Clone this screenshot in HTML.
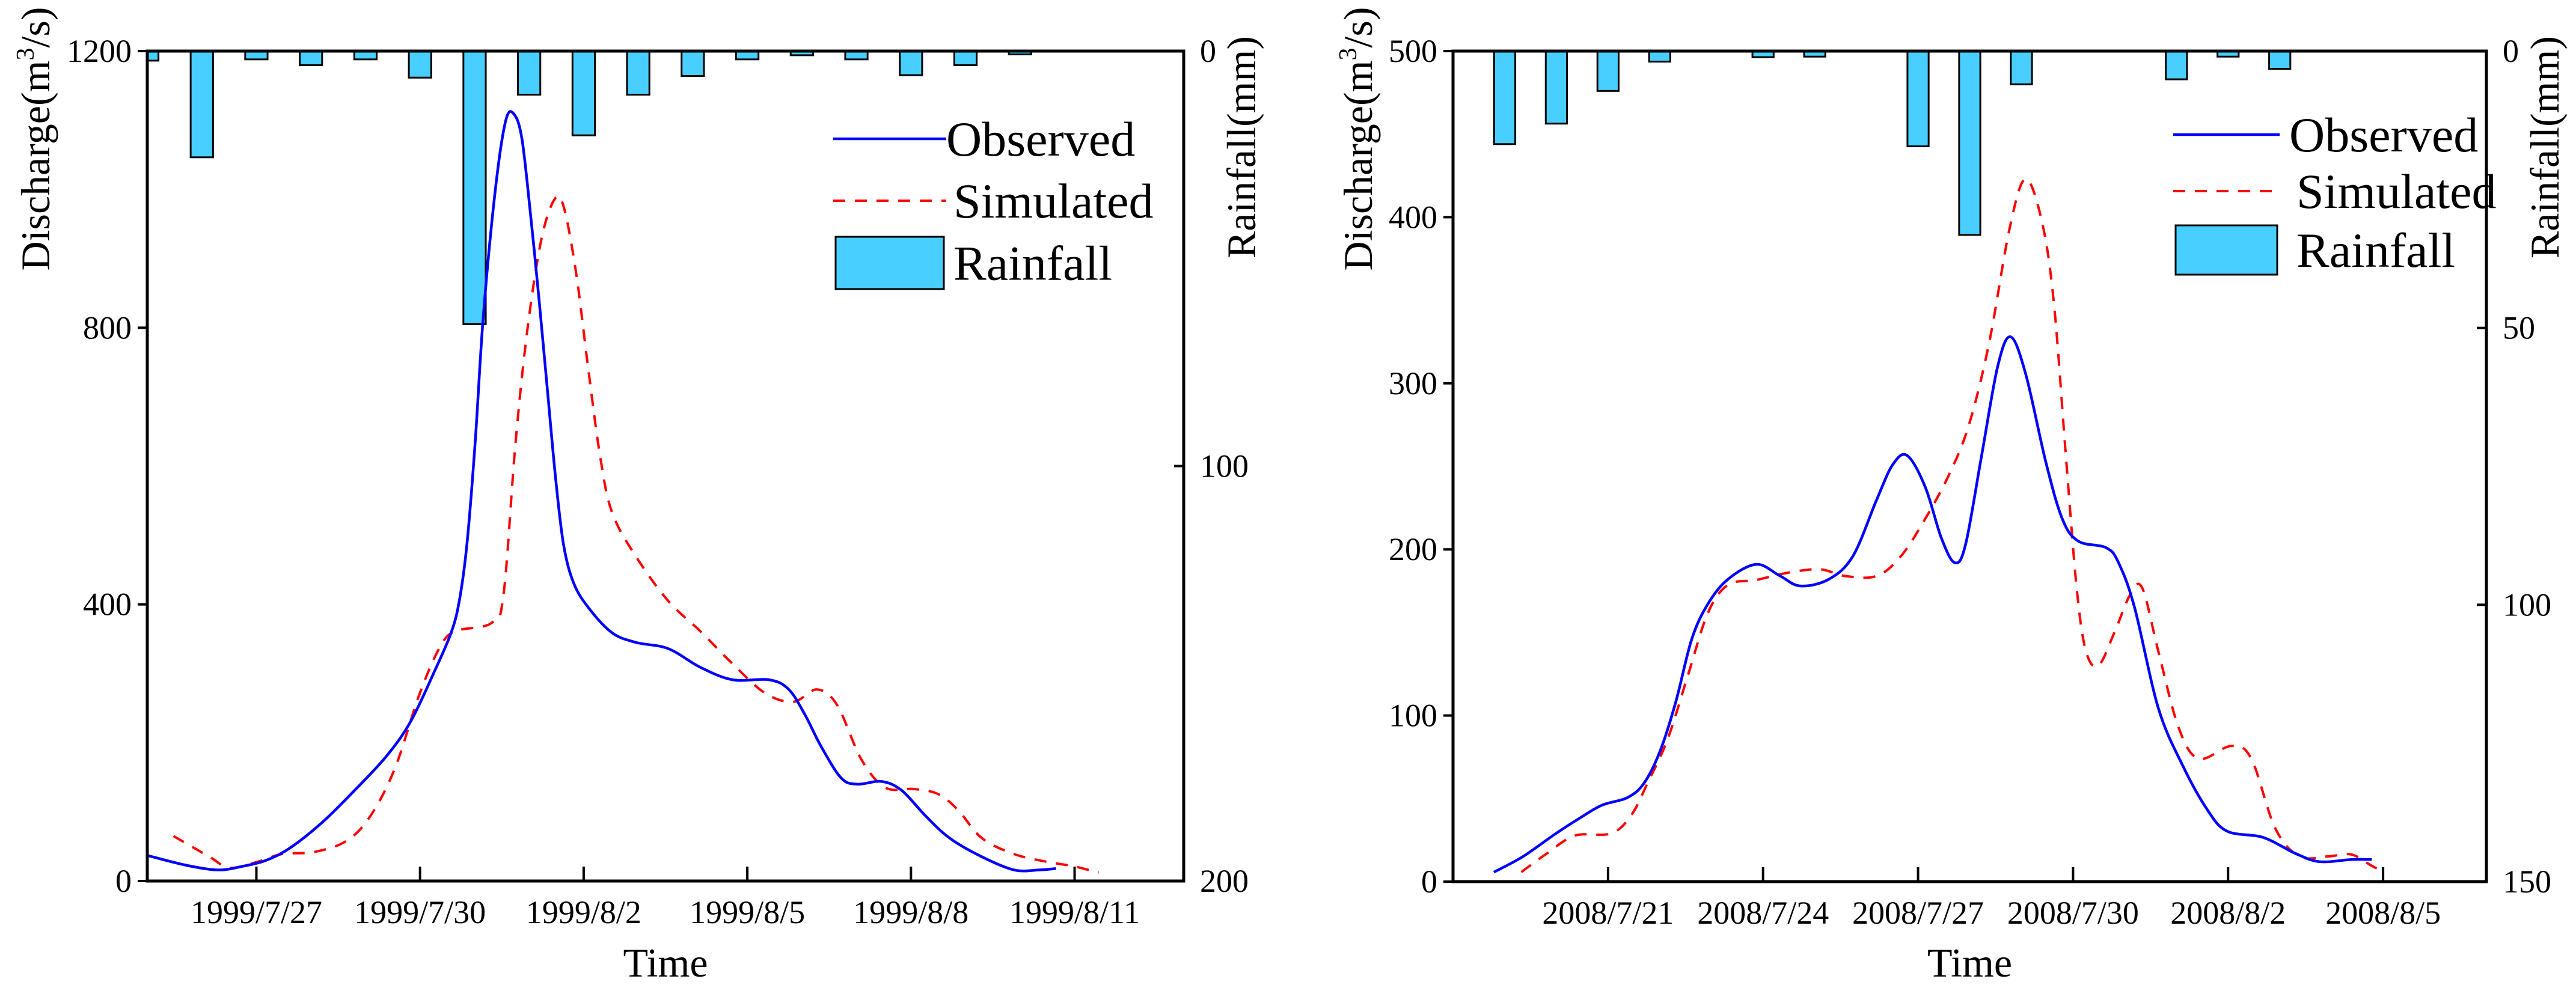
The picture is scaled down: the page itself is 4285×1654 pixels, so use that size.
<!DOCTYPE html>
<html><head><meta charset="utf-8"><style>
html,body{margin:0;padding:0;background:#fff;}
svg, svg text{font-family:"Liberation Serif","Times New Roman",serif;}
</style></head><body>
<svg id="chart" width="4285" height="1649" viewBox="0 0 4285 1649" font-family="Liberation Serif, Times New Roman, serif" xmlns="http://www.w3.org/2000/svg"></svg>
<script>
// ---- Left chart (1999 event), day offsets relative to 1999/7/27 ----
const leftTickLabels = ["1999/7/27","1999/7/30","1999/8/2","1999/8/5","1999/8/8","1999/8/11"];
const leftTickDays = [0,3,6,9,12,15];
const leftRainDays = [-2,-1,0,1,2,3,4,5,6,7,8,9,10,11,12,13,14];
const leftRain = [2.3,25.6,2,3.4,2,6.4,65.8,10.5,20.3,10.5,6,2,1,2,5.8,3.4,0.8];
const leftObsDays = [-2,-1.3,-0.71,-0.27,0.18,0.62,1.21,1.8,2.39,2.83,3.27,3.57,3.72,3.86,4.01,4.16,4.38,4.57,4.72,4.87,5.04,5.19,5.34,5.49,5.63,5.81,6.08,6.52,6.96,7.55,8.14,8.73,9.4,9.76,10.06,10.35,10.72,11.02,11.46,11.83,12.27,12.71,13.3,13.89,14.34,14.66];
const leftObs = [37,23,16,21,30,48,85,131,181,231,304,359,405,487,633,816,999,1099,1109,1072,953,834,706,579,487,432,396,359,345,336,309,291,291,277,240,195,149,140,144,131,94,62,35,16,16,18];
const leftSimDays = [-1.52,-0.86,-0.49,0.03,0.47,1.06,1.65,2.09,2.54,2.98,3.35,3.64,4.31,4.53,4.75,4.97,5.22,5.46,5.63,5.86,6.08,6.3,6.52,6.96,7.55,8.14,8.73,9.32,9.84,10.28,10.65,11.09,11.53,12.05,12.49,12.86,13.3,13.89,14.48,15.0,15.44];
const leftSim = [65,35,19,28,39,42,58,94,163,268,336,361,373,414,633,798,926,985,976,880,743,615,533,469,405,361,314,272,259,277,254,176,135,133,126,103,62,39,28,21,12];
const leftQTicks = [0,400,800,1200];
const leftRTicks = [0,100,200];

// ---- Right chart (2008 event), day offsets relative to 2008/7/21 ----
const rightTickLabels = ["2008/7/21","2008/7/24","2008/7/27","2008/7/30","2008/8/2","2008/8/5"];
const rightTickDays = [0,3,6,9,12,15];
const rightRainDays = [-2,-1,0,1,3,4,6,7,8,11,12,13];
const rightRain = [16.8,13.1,7.2,1.9,1.1,1.0,17.2,33.2,6.0,5.1,1.0,3.2];
const rightObsDays = [-2.21,-1.65,-1.03,-0.56,-0.12,0.37,0.69,1.0,1.31,1.62,1.93,2.32,2.87,3.33,3.72,4.27,4.74,5.2,5.51,5.79,6.14,6.45,6.71,6.92,7.23,7.54,7.79,8.08,8.47,8.79,9.1,9.64,9.88,10.19,10.65,11.12,11.59,11.98,12.68,13.3,13.77,14.39,14.78];
const rightObs = [5.7,15,28.5,38,46,50.5,59,78,108,146,167,182,191,184,178,182,196,230,251,256.5,237.5,207,192,203,256.5,310,328,306,253,218.5,205,201,192,165,104.5,70,43.7,30.4,26.6,17,12,13.3,13.3];
const rightSimDays = [-1.68,-1.18,-0.64,0.06,0.45,0.76,1.15,1.54,1.93,2.32,2.87,3.49,4.11,4.58,5.2,5.67,6.14,6.6,6.99,7.38,7.77,8.08,8.4,8.63,8.86,9.07,9.25,9.49,9.8,10.11,10.34,10.65,11.04,11.43,12.06,12.45,12.91,13.38,13.93,14.39,14.78,15.02];
const rightSim = [5.7,17,27.7,29,40,59,85.5,123.5,161.5,178.6,181.6,186,188,184,184,196,218.5,245,275.5,325,393,423,397,348,256.5,176.7,138.7,130,150,173,176.7,138.7,93,74,81.7,74,32.3,15.2,15.2,16.3,9.5,5.7];
const rightQTicks = [0,100,200,300,400,500];
const rightRTicks = [0,50,100,150];

const NS = "http://www.w3.org/2000/svg";
const FONT = "Liberation Serif, Times New Roman, serif";
const svg = document.getElementById('chart');
function mk(tag, attrs, parent, text){
  const e = document.createElementNS(NS, tag);
  for (const k in attrs) e.setAttribute(k, attrs[k]);
  if (tag === 'text') e.setAttribute('font-family', FONT);
  if (text !== undefined) e.textContent = text;
  (parent || svg).appendChild(e);
  return e;
}
function smoothPath(pts){
  let d = "M" + pts[0][0].toFixed(1) + "," + pts[0][1].toFixed(1);
  for (let i = 0; i < pts.length - 1; i++){
    const p0 = pts[i-1] || pts[i], p1 = pts[i], p2 = pts[i+1], p3 = pts[i+2] || p2;
    const c1x = p1[0] + (p2[0]-p0[0])/6, c1y = p1[1] + (p2[1]-p0[1])/6;
    const c2x = p2[0] - (p3[0]-p1[0])/6, c2y = p2[1] - (p3[1]-p1[1])/6;
    d += " C" + c1x.toFixed(1) + "," + c1y.toFixed(1) + " " + c2x.toFixed(1) + "," + c2y.toFixed(1) + " " + p2[0].toFixed(1) + "," + p2[1].toFixed(1);
  }
  return d;
}

function drawChart(c){
  const g = mk('g', {});
  
  
  const xs = d => c.x0 + (d - c.d0) / (c.d1 - c.d0) * (c.x1 - c.x0);
  const yq = q => c.y1 - q / c.qMax * (c.y1 - c.y0);
  const yr = r => c.y0 + r / c.rMax * (c.y1 - c.y0);
  const clipId = c.name + '-clip';
  const defs = mk('defs', {}, g);
  const cp = mk('clipPath', {id: clipId}, defs);
  mk('rect', {x: c.x0, y: c.y0, width: c.x1 - c.x0, height: c.y1 - c.y0}, cp);
  const plot = mk('g', {'clip-path': 'url(#' + clipId + ')'}, g);
  
  
  const bw = 0.41 * (c.x1 - c.x0) / (c.d1 - c.d0);
  c.rainDays.forEach((d, i) => {
    const b = mk('rect', {x: xs(d) - bw/2, y: c.y0 - 2, width: bw, height: yr(c.rain[i]) - c.y0 + 2, fill: '#48CFFF', stroke: '#000', 'stroke-width': 3}, plot);
    
    
  });
  const sim = mk('path', {d: smoothPath(c.simDays.map((d, i) => [xs(d), yq(c.sim[i])])), fill: 'none', stroke: '#FF0000', 'stroke-width': 4, 'stroke-dasharray': '20 16'}, plot);
  
  
  const obs = mk('path', {d: smoothPath(c.obsDays.map((d, i) => [xs(d), yq(c.obs[i])])), fill: 'none', stroke: '#0000FF', 'stroke-width': 4.5}, plot);
  
  
  const fr = mk('rect', {x: c.x0, y: c.y0, width: c.x1 - c.x0, height: c.y1 - c.y0, fill: 'none', stroke: '#000', 'stroke-width': 5}, g);
  
  
  c.qTicks.forEach(q => {
    mk('line', {x1: c.x0 - 16, x2: c.x0, y1: yq(q), y2: yq(q), stroke: '#000', 'stroke-width': 4}, g);
    const t = mk('text', {x: c.x0 - 26, y: yq(q) + 18, 'font-size': 54, 'text-anchor': 'end'}, g, String(q));
    
    
  });
  c.rTicks.forEach(r => {
    mk('line', {x1: c.x1 - 16, x2: c.x1, y1: yr(r), y2: yr(r), stroke: '#000', 'stroke-width': 4}, g);
    const t = mk('text', {x: c.x1 + 27, y: yr(r) + 18, 'font-size': 54}, g, String(r));
    
    
  });
  c.tickDays.forEach((d, i) => {
    mk('line', {x1: xs(d), x2: xs(d), y1: c.y1 - 24, y2: c.y1, stroke: '#000', 'stroke-width': 4}, g);
    const t = mk('text', {x: xs(d), y: c.y1 + 70, 'font-size': 54, 'text-anchor': 'middle'}, g, c.tickLabels[i]);
    
    
  });
  const xt = mk('text', {x: (c.x0 + c.x1) / 2, y: 1625, 'font-size': 68, 'text-anchor': 'middle'}, g, 'Time');
  
  
  const yt = mk('text', {transform: 'translate(' + c.ylx + ',231) rotate(-90)', 'font-size': 68, 'text-anchor': 'middle'}, g);
  
  
  mk('tspan', {}, yt, 'Discharge(m');
  mk('tspan', {'font-size': 42, dy: -26}, yt, '3');
  mk('tspan', {dy: 26}, yt, '/s)');
  const yr2 = mk('text', {transform: 'translate(' + c.yrx + ',245) rotate(-90)', 'font-size': 68, 'text-anchor': 'middle'}, g, 'Rainfall(mm)');
  
  
  const lg = mk('g', {}, g);
  
  
  const L = c.leg;
  mk('line', {x1: L.lx0, x2: L.lx1, y1: L.y1, y2: L.y1, stroke: '#0000FF', 'stroke-width': 4.5}, lg);
  mk('text', {x: L.tx, y: L.y1 + 28, 'font-size': 82}, lg, 'Observed');
  mk('line', {x1: L.lx0, x2: L.lx1, y1: L.y2, y2: L.y2, stroke: '#FF0000', 'stroke-width': 4, 'stroke-dasharray': '20 16'}, lg);
  mk('text', {x: L.tx + 12, y: L.y2 + 28, 'font-size': 82}, lg, 'Simulated');
  mk('rect', {x: L.bx0, y: L.by0, width: L.bx1 - L.bx0, height: L.by1 - L.by0, fill: '#48CFFF', stroke: '#000', 'stroke-width': 3}, lg);
  mk('text', {x: L.tx + 12, y: (L.by0 + L.by1)/2 + 28, 'font-size': 82}, lg, 'Rainfall');
}

drawChart({name: 'left-chart', x0: 245, x1: 1969, y0: 85, y1: 1466, d0: -2, d1: 17, qMax: 1200, rMax: 200,
  tickDays: leftTickDays, tickLabels: leftTickLabels, rainDays: leftRainDays, rain: leftRain,
  obsDays: leftObsDays, obs: leftObs, simDays: leftSimDays, sim: leftSim, qTicks: leftQTicks, rTicks: leftRTicks,
  ylx: 82, yrx: 2088,
  leg: {lx0: 1386, lx1: 1574, y1: 231, y2: 334, tx: 1574, bx0: 1390, bx1: 1570, by0: 394, by1: 481}});
drawChart({name: 'right-chart', x0: 2417, x1: 4136, y0: 85, y1: 1467, d0: -3, d1: 17, qMax: 500, rMax: 150,
  tickDays: rightTickDays, tickLabels: rightTickLabels, rainDays: rightRainDays, rain: rightRain,
  obsDays: rightObsDays, obs: rightObs, simDays: rightSimDays, sim: rightSim, qTicks: rightQTicks, rTicks: rightRTicks,
  ylx: 2282, yrx: 4256,
  leg: {lx0: 3615, lx1: 3792, y1: 224, y2: 318, tx: 3808, bx0: 3619, bx1: 3788, by0: 375, by1: 457}});
</script>
</body></html>
